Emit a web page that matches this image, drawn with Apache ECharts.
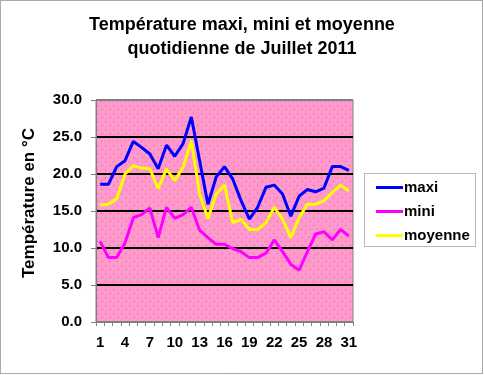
<!DOCTYPE html>
<html><head><meta charset="utf-8">
<script src="https://cdn.jsdelivr.net/npm/echarts@6/dist/echarts.min.js"></script>
<style>html,body{margin:0;padding:0;background:#fff}#c{width:484px;height:375px}</style>
</head><body><div id="c"></div>
<script>
var categories = ['1','2','3','4','5','6','7','8','9','10','11','12','13','14','15','16','17','18','19','20','21','22','23','24','25','26','27','28','29','30','31'];
var maxiValues = [18.6,18.6,21.0,21.8,24.4,23.6,22.7,20.7,23.9,22.4,24.1,27.7,21.8,15.9,19.6,21.0,19.3,16.4,13.9,15.5,18.2,18.5,17.3,14.3,17.0,17.9,17.6,18.1,21.0,21.0,20.5];
var miniValues = [10.9,8.7,8.7,10.7,14.1,14.5,15.4,11.4,15.5,14.0,14.5,15.5,12.4,11.4,10.5,10.5,9.9,9.5,8.7,8.7,9.3,11.1,9.5,7.8,7.0,9.5,11.9,12.2,11.1,12.5,11.6];
var moyenneValues = [15.8,15.9,16.7,20.0,21.1,20.8,20.7,18.0,20.7,19.1,20.9,24.5,17.3,14.0,17.3,18.5,13.4,13.9,12.5,12.5,13.4,15.5,13.9,11.4,14.1,15.9,15.9,16.4,17.5,18.5,17.7];
var seriesNames = ['maxi','mini','moyenne'];

var pc = document.createElement('canvas');
pc.width = 8; pc.height = 8;
var g = pc.getContext('2d');
g.fillStyle = '#FF99CC'; g.fillRect(0,0,8,8);
g.fillStyle = '#DD5FA0'; g.fillRect(1,1,1,1); g.fillRect(5,5,1,1);

var font = '"Liberation Sans", Arial, sans-serif';
var chart = echarts.init(document.getElementById('c'), null, {renderer:'canvas'});
chart.setOption({
  animation: false,
  backgroundColor: '#fff',
  title: {
    text: 'Température maxi, mini et moyenne\nquotidienne de Juillet 2011',
    left: 'center', top: 8,
    textStyle: {fontFamily: font, fontSize: 18, fontWeight: 'bold', color: '#000', lineHeight: 24}
  },
  grid: {
    left: 96, right: 131, top: 100, bottom: 53,
    show: true,
    backgroundColor: {image: pc, repeat: 'repeat'},
    borderColor: '#808080', borderWidth: 1
  },
  legend: {
    orient: 'vertical', left: 371, top: 175,
    itemWidth: 27, itemHeight: 3, itemGap: 9,
    icon: 'rect',
    textStyle: {fontFamily: font, fontSize: 15, fontWeight: 'bold', color: '#000', padding: [0,0,0,-4]},
    data: seriesNames
  },
  graphic: [
    {type:'rect', shape:{x:0.5,y:0.5,width:482,height:373}, style:{fill:'none', stroke:'#555', lineWidth:1, lineDash:[1,1]}, silent:true, z:-1},
    {type:'rect', shape:{x:364.5,y:173.5,width:111,height:73}, style:{fill:'none', stroke:'#777', lineWidth:1, lineDash:[1,1]}, silent:true}
  ],
  xAxis: {
    type: 'category', data: categories, boundaryGap: true,
    axisLine: {lineStyle: {color: '#808080', width: 1}},
    axisTick: {show: true, interval: 0, length: 4, lineStyle: {color: '#808080'}},
    axisLabel: {interval: 2, margin: 13, fontFamily: font, fontSize: 15, fontWeight: 'bold', color: '#000'},
    splitLine: {show: false}
  },
  yAxis: {
    type: 'value', min: 0, max: 30, interval: 5,
    name: 'Température en °C', nameLocation: 'middle', nameGap: 58,
    nameTextStyle: {fontFamily: font, fontSize: 17, fontWeight: 'bold', color: '#000', padding: [0,0,0,16]},
    axisLine: {show: true, lineStyle: {color: '#808080', width: 1}},
    axisTick: {show: true, length: 5, lineStyle: {color: '#808080'}},
    axisLabel: {margin: 14, fontFamily: font, fontSize: 15, fontWeight: 'bold', color: '#000',
      formatter: function(v){ return v.toFixed(1); }},
    splitLine: {show: true, lineStyle: {color: ['#808080','#000','#000','#000','#000','#000','#808080'], width: 2}}
  },
  series: [
    {name:seriesNames[0], type:'line', data:maxiValues, symbol:'none', lineStyle:{color:'#0000FF', width:3}, itemStyle:{color:'#0000FF'}, z:4},
    {name:seriesNames[1], type:'line', data:miniValues, symbol:'none', lineStyle:{color:'#FF00FF', width:3}, itemStyle:{color:'#FF00FF'}, z:3},
    {name:seriesNames[2], type:'line', data:moyenneValues, symbol:'none', lineStyle:{color:'#FFFF00', width:3}, itemStyle:{color:'#FFFF00'}, z:3}
  ]
});
</script>
</body></html>
